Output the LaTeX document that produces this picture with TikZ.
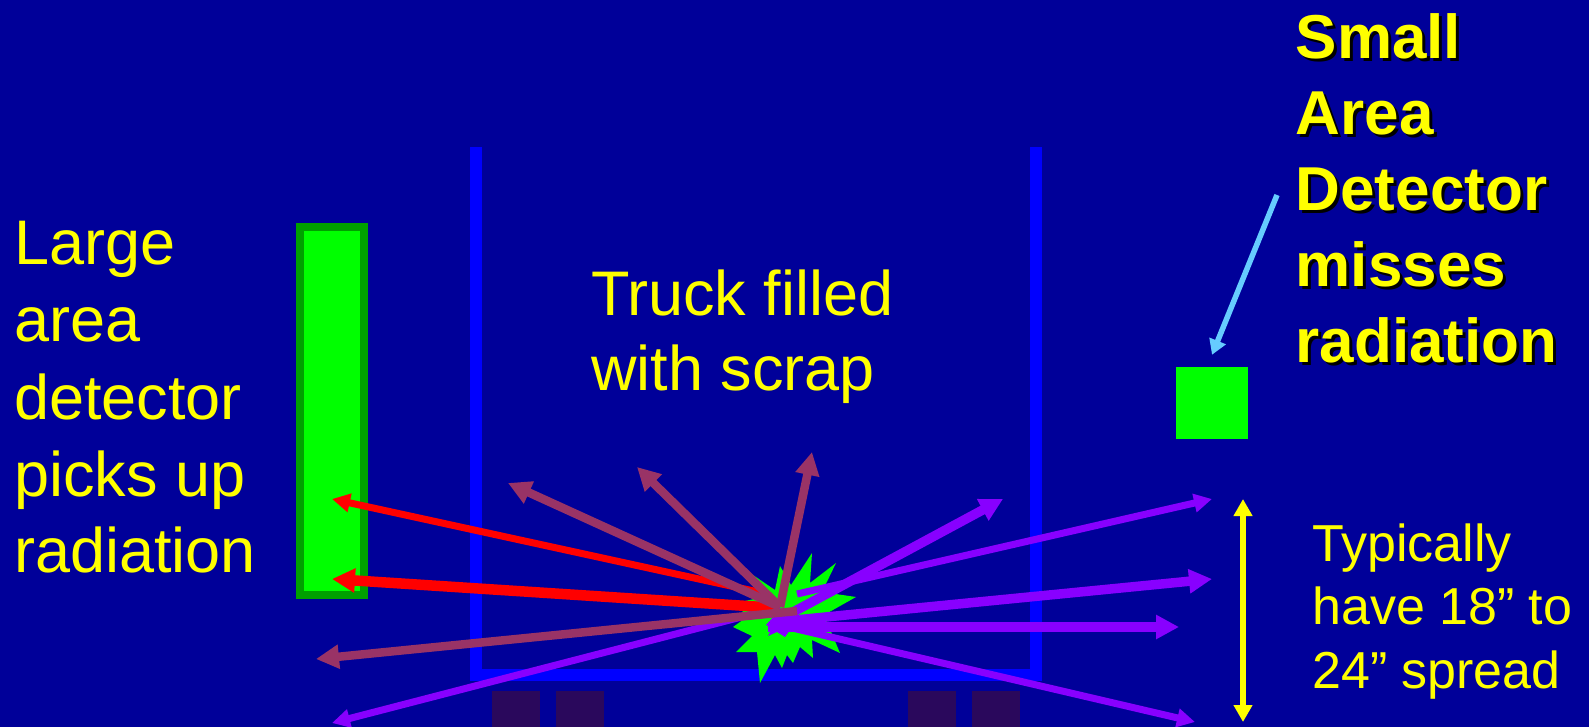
\documentclass[tikz,border=0pt]{standalone}
\usepackage{fontspec}
\setmainfont{Liberation Sans}
\usetikzlibrary{arrows.meta}
\definecolor{bgblue}{RGB}{0,0,153}
\definecolor{truckblue}{RGB}{0,0,255}
\definecolor{detgreen}{RGB}{0,255,0}
\definecolor{detdark}{RGB}{0,160,0}
\definecolor{rayred}{RGB}{255,0,0}
\definecolor{raymauve}{RGB}{153,51,102}
\definecolor{raypurple}{RGB}{136,0,255}
\definecolor{wheelcol}{RGB}{42,8,92}
\definecolor{pointerblue}{RGB}{102,204,255}
\definecolor{txtyellow}{RGB}{255,255,0}
\begin{document}
\begin{tikzpicture}[x=1pt,y=-1pt,
  thinray/.style={line width=7pt,-{Triangle[length=18pt,width=18pt]}},
  thickray/.style={line width=9.5pt,-{Triangle[length=23pt,width=23pt]}},
  wheelbox/.style={fill=wheelcol},
  truckwall/.style={draw=truckblue,line width=12pt,miter limit=4,line join=miter},
  bigtext/.style={anchor=base west,inner sep=0pt,text=txtyellow,font=\fontsize{63}{77}\selectfont},
  boldtext/.style={anchor=base west,inner sep=0pt,font=\fontsize{62}{76}\selectfont\bfseries},
  midtext/.style={anchor=base west,inner sep=0pt,text=txtyellow,font=\fontsize{52}{63.5}\selectfont}]
\fill[bgblue] (0,0) rectangle (1589,727);
\useasboundingbox (0,0) rectangle (1589,727);

% truck
\draw[truckwall] (476,147) -- (476,675) -- (1036,675) -- (1036,147);
\fill[wheelbox] (492,691) rectangle (540,727);
\fill[wheelbox] (556,691) rectangle (604,727);
\fill[wheelbox] (908,691) rectangle (956,727);
\fill[wheelbox] (972,691) rectangle (1020,727);

% detectors
\node[draw=detdark,fill=detgreen,line width=8pt,minimum width=64pt,minimum height=368pt,inner sep=0pt] (ldet) at (332,411) {};
\node[fill=detgreen,minimum width=72pt,minimum height=72pt,inner sep=0pt] (sdet) at (1212,403) {};

% source starburst
\fill[detgreen] (753,575) -- (775,590) -- (780,566) -- (791,585) -- (812,553) -- (810,583)
  -- (836,563) -- (822,592) -- (856,597) -- (824,615) -- (840,653) -- (812,640)
  -- (813,658) -- (800,647) -- (793,663) -- (787,655) -- (782,668) -- (775,655)
  -- (760,683) -- (757,652) -- (736,652) -- (752,636) -- (733,627) -- (747,617)
  -- (736,603) -- (763,597) -- cycle;

% ray end points
\coordinate (r1a) at (763,593);  \coordinate (r1b) at (332,499);
\coordinate (r2a) at (778,608);  \coordinate (r2b) at (332,579);
\coordinate (m0) at (780,607);
\coordinate (m1b) at (508,483);
\coordinate (m2b) at (637,467);
\coordinate (m3b) at (812,452);
\coordinate (m4a) at (797,611); \coordinate (m4b) at (316,659);
\coordinate (p1a) at (782,618); \coordinate (p1b) at (1003,499);
\coordinate (p2a) at (797,594); \coordinate (p2b) at (1212,499);
\coordinate (p3a) at (775,622); \coordinate (p3b) at (1212,579);
\coordinate (p4a) at (768,627); \coordinate (p4b) at (1179,627);
\coordinate (p5a) at (775,624); \coordinate (p5b) at (1195,722);
\coordinate (p6b) at (332,723);

% purple rays
\draw[thinray,draw=raypurple,fill=raypurple] (m0) -- (p6b);
\draw[thickray,draw=raypurple,fill=raypurple] (p1a) -- (p1b);
\draw[thinray,draw=raypurple,fill=raypurple] (p2a) -- (p2b);
\draw[thickray,draw=raypurple,fill=raypurple] (p3a) -- (p3b);
\draw[thickray,draw=raypurple,fill=raypurple] (p4a) -- (p4b);
\draw[thinray,draw=raypurple,fill=raypurple] (p5a) -- (p5b);
\fill[raypurple] (766,625) -- (775,615) -- (780,608) -- (788,614) -- (800,612) -- (795,622)
  -- (803,630) -- (790,630) -- (785,637) -- (777,632) -- (768,636) -- (772,628) -- cycle;

% red rays
\draw[thinray,draw=rayred,fill=rayred] (r1a) -- (r1b);
\draw[thickray,line width=10.5pt,draw=rayred,fill=rayred] (r2a) -- (r2b);

% mauve rays
\draw[thickray,line width=8.5pt,draw=raymauve,fill=raymauve] (m0) -- (m1b);
\draw[thickray,line width=8.5pt,draw=raymauve,fill=raymauve] (m0) -- (m2b);
\draw[thickray,line width=8.5pt,draw=raymauve,fill=raymauve] (m0) -- (m3b);
\draw[thickray,line width=8.5pt,draw=raymauve,fill=raymauve] (m4a) -- (m4b);

% spread indicator
\coordinate (spreadtop) at (1243,499);
\coordinate (spreadbot) at (1243,722);
\draw[draw=txtyellow,fill=txtyellow,line width=6pt,{Triangle[length=17pt,width=18pt]}-{Triangle[length=17pt,width=18pt]}] (spreadtop) -- (spreadbot);

% texts
\node[bigtext] (largetxt) at (14,265) {\parbox[t]{280pt}{\raggedright Large\\area\\detector\\picks up\\radiation}};
\node[bigtext,font=\fontsize{63}{75}\selectfont] (trucktxt) at (591,315) {\parbox[t]{330pt}{\raggedright Truck filled\\with scrap}};
\node[midtext] (spreadtxt) at (1312,561) {\parbox[t]{276pt}{\raggedright Typically\\have 18” to\\24” spread}};
\node[boldtext,text=black] (smallshadow) at (1298.5,62) {\parbox[t]{290pt}{\raggedright Small\\Area\\Detector\\misses\\radiation}};
\node[boldtext,text=txtyellow] (smalltxt) at (1295.5,59) {\parbox[t]{290pt}{\raggedright Small\\Area\\Detector\\misses\\radiation}};

% pointer
\coordinate (ptrstart) at (1277,195);
\draw[draw=pointerblue,fill=pointerblue,line width=5.5pt,-{Triangle[length=15pt,width=17pt]}] (ptrstart) -- ([yshift=12pt]sdet.north);
\end{tikzpicture}
\end{document}
